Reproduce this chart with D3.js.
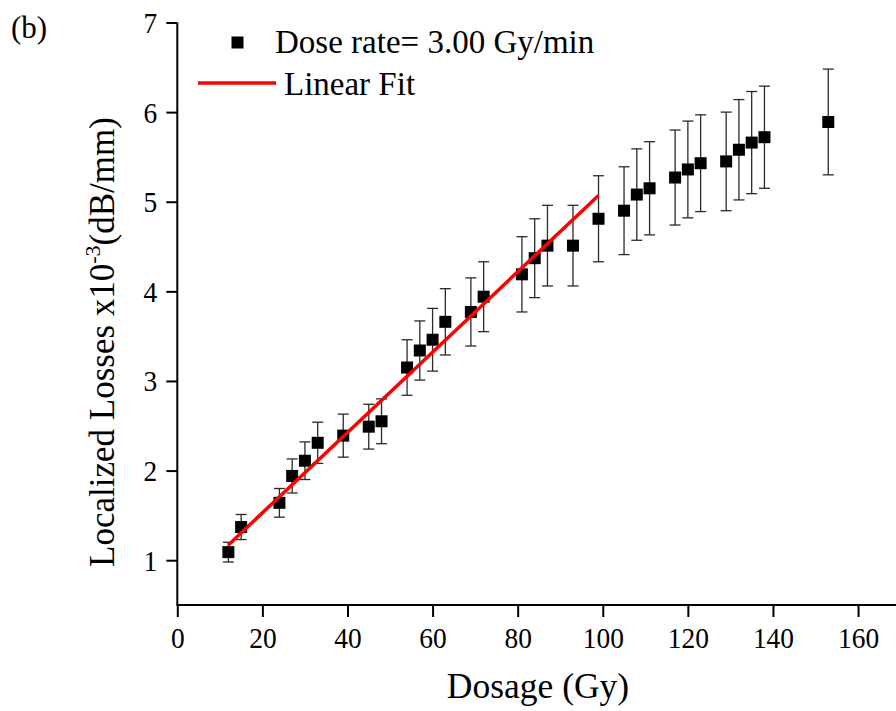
<!DOCTYPE html>
<html>
<head>
<meta charset="utf-8">
<script src="https://cdn.jsdelivr.net/npm/d3@7"></script>
<style>
  body { margin: 0; background: #fff; }
  svg { display: block; }
  text { font-family: "Liberation Serif", "Times New Roman", serif; fill: #000; }
</style>
</head>
<body>
<svg id="chart" width="896" height="711"></svg>
<script>
// data (dose in Gy, loss in 1e-3 dB/mm)
let dose = [12, 15, 24, 27, 30, 33, 39, 45, 48, 54, 57, 60, 63, 69, 72, 81, 84, 87, 93,
            99, 105, 108, 111, 117, 120, 123, 129, 132, 135, 138, 153];
let loss = [1.09, 1.37, 1.64, 1.94, 2.11, 2.31, 2.39, 2.49, 2.55, 3.15, 3.34, 3.46, 3.66, 3.77, 3.94, 4.19, 4.37, 4.51, 4.51,
            4.81, 4.90, 5.08, 5.15, 5.27, 5.36, 5.43, 5.45, 5.58, 5.66, 5.72, 5.89];
let lossErr = [0.11, 0.14, 0.16, 0.19, 0.21, 0.23, 0.24, 0.25, 0.25, 0.31, 0.33, 0.35, 0.37, 0.38, 0.39, 0.42, 0.44, 0.45, 0.45,
               0.48, 0.49, 0.51, 0.52, 0.53, 0.54, 0.54, 0.55, 0.56, 0.57, 0.57, 0.59];

// linear fit end points
let fitX = [12, 99];
let fitY = [1.17, 5.07];

let xMajor = [0, 20, 40, 60, 80, 100, 120, 140, 160];
let xMinor = [10, 30, 50, 70, 90, 110, 130, 150, 170];
let yMajor = [1, 2, 3, 4, 5, 6, 7];
let yMinor = [0.5, 1.5, 2.5, 3.5, 4.5, 5.5, 6.5];

let legendLabels = ["Dose rate= 3.00 Gy/min", "Linear Fit"];

let svg = d3.select("#chart");

let x = d3.scaleLinear().domain([0, 170]).range([177.3, 900.6]);
let y = d3.scaleLinear().domain([0.5, 7]).range([605, 22.5]);

// axes
let gx = svg.append("g").attr("transform", "translate(0,605)");
gx.call(d3.axisBottom(x).tickValues(xMinor).tickSize(6).tickFormat(""));
gx.call(d3.axisBottom(x).tickValues(xMajor).tickSize(12).tickFormat(d3.format("d")));
gx.select(".domain").remove();
gx.append("line").attr("x1", x(0)).attr("x2", 896).attr("stroke", "#000").attr("stroke-width", 2);
gx.selectAll("line").attr("stroke-width", 2);
// tick digits in the figure are a little narrow, so squeeze them
gx.selectAll(".tick text")
  .attr("x", 0).attr("y", 0).attr("dy", 0)
  .attr("transform", "translate(0,43) scale(0.93,1)")
  .style("font-size", "29.5px");

let gy = svg.append("g").attr("transform", "translate(177.3,0)");
gy.call(d3.axisLeft(y).tickValues(yMinor).tickSize(5).tickFormat(""));
gy.call(d3.axisLeft(y).tickValues(yMajor).tickSize(11).tickFormat(d3.format("d")));
gy.select(".domain").remove();
gy.append("line").attr("y1", y(0.5) + 1).attr("y2", y(7)).attr("stroke", "#000").attr("stroke-width", 2);
gy.selectAll("line").attr("stroke-width", 2);
gy.selectAll(".tick text")
  .attr("x", 0).attr("y", 0).attr("dy", 0)
  .attr("transform", "translate(-20,10) scale(0.93,1)")
  .style("font-size", "29.5px");
svg.selectAll(".tick text").attr("font-family", null);

// axis titles
svg.append("text")
  .attr("transform", `translate(538,698)`)
  .attr("text-anchor", "middle")
  .style("font-size", "35.5px")
  .text("Dosage (Gy)");

let yt = svg.append("text")
  .attr("transform", `translate(114,342) rotate(-90)`)
  .attr("text-anchor", "middle")
  .style("font-size", "35px");
yt.append("tspan").text("Localized Losses x10");
yt.append("tspan").attr("dy", -14).style("font-size", "22px").text("-3");
yt.append("tspan").attr("dy", 14).text("(dB/mm)");

svg.append("text")
  .attr("transform", `translate(11,38)`)
  .style("font-size", "31px")
  .text("(b)");

// error bars
let pts = dose.map((d, i) => ({x: d, y: loss[i], e: lossErr[i]}));
let eb = svg.append("g").attr("stroke", "#2a2a2a").attr("stroke-width", 1.3);
eb.selectAll("line.v").data(pts).join("line").attr("class", "v")
  .attr("x1", d => x(d.x)).attr("x2", d => x(d.x))
  .attr("y1", d => y(d.y - d.e)).attr("y2", d => y(d.y + d.e));
eb.selectAll("line.t").data(pts).join("line").attr("class", "t")
  .attr("x1", d => x(d.x) - 5.5).attr("x2", d => x(d.x) + 5.5)
  .attr("y1", d => y(d.y + d.e)).attr("y2", d => y(d.y + d.e));
eb.selectAll("line.b").data(pts).join("line").attr("class", "b")
  .attr("x1", d => x(d.x) - 5.5).attr("x2", d => x(d.x) + 5.5)
  .attr("y1", d => y(d.y - d.e)).attr("y2", d => y(d.y - d.e));

// squares
svg.append("g").selectAll("rect").data(pts).join("rect")
  .attr("x", d => x(d.x) - 6).attr("y", d => y(d.y) - 6)
  .attr("width", 12).attr("height", 12)
  .attr("fill", "#000");

// fit line
svg.append("path")
  .datum(fitX.map((d, i) => [d, fitY[i]]))
  .attr("d", d3.line().x(d => x(d[0])).y(d => y(d[1])))
  .attr("stroke", "#ff0000").attr("stroke-width", 3.5).attr("fill", "none");

// legend
svg.append("rect").attr("x", 231.5).attr("y", 36.5).attr("width", 12).attr("height", 12).attr("fill", "#000");
svg.append("text")
  .attr("transform", `translate(275,53)`)
  .style("font-size", "33px")
  .text(legendLabels[0]);
svg.append("line").attr("x1", 198).attr("x2", 276).attr("y1", 83).attr("y2", 83)
  .attr("stroke", "#ff0000").attr("stroke-width", 3.5);
svg.append("text")
  .attr("transform", `translate(284,95)`)
  .style("font-size", "33px")
  .text(legendLabels[1]);
</script>
</body>
</html>
